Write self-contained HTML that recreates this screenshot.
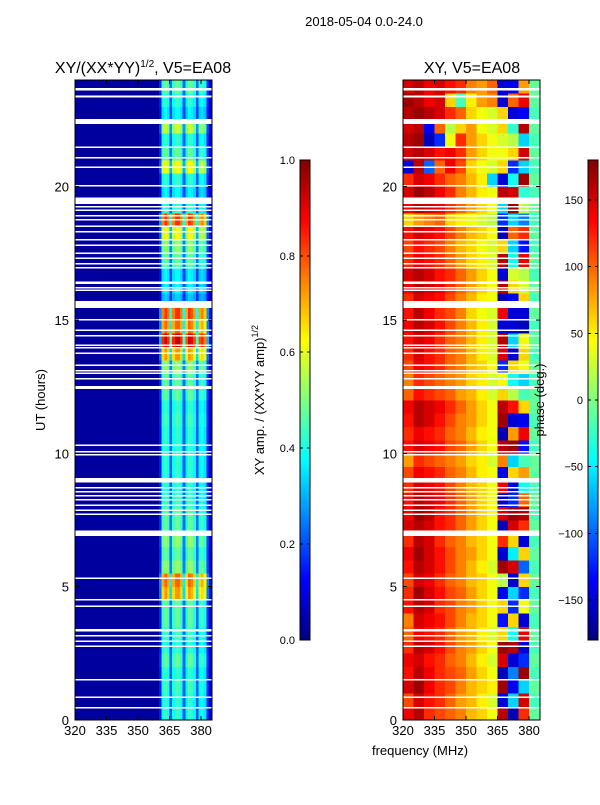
<!DOCTYPE html>
<html><head><meta charset="utf-8"><style>
body{margin:0;background:#fff;font-family:"Liberation Sans",sans-serif}
svg text{font-family:"Liberation Sans","DejaVu Sans",sans-serif;fill:#000}
</style></head><body>
<svg id="fig" width="600" height="800" xmlns="http://www.w3.org/2000/svg" shape-rendering="crispEdges">
<rect width="600" height="800" fill="#fff"/>
<text x="364" y="26" font-size="13" text-anchor="middle">2018-05-04 0.0-24.0</text>
<text x="143" y="73" font-size="16" text-anchor="middle">XY/(XX*YY)<tspan font-size="10" dy="-6">1/2</tspan><tspan dy="6">, V5=EA08</tspan></text>
<text x="472" y="73" font-size="16" text-anchor="middle">XY, V5=EA08</text>
<text transform="translate(45,400) rotate(-90)" font-size="13" text-anchor="middle">UT (hours)</text>
<text x="420" y="755" font-size="13" text-anchor="middle">frequency (MHz)</text>
<text transform="translate(264,400) rotate(-90)" font-size="13" text-anchor="middle">XY amp. / (XX*YY amp)<tspan font-size="9" dy="-6">1/2</tspan></text>
<g id="g-left"></g>
<g id="g-right"></g>
<g id="g-axes"></g>
<text transform="translate(544,400) rotate(-90)" font-size="13" text-anchor="middle">phase (deg.)</text>
</svg>
<script>
// ---- data ----
const hoursRange = [0, 24];
const freqRange = [320, 385.2];
const yTicks = [0, 5, 10, 15, 20];
const xTicks = [320, 335, 350, 365, 380];
const ampTicks = [0.0, 0.2, 0.4, 0.6, 0.8, 1.0];
const phaseTicks = [-150, -100, -50, 0, 50, 100, 150];
// amplitude per half-hour row (0h upward)
const rowAmp = [0.4,0.4,0.42,0.4,0.45,0.4,0.42,0.45,0.45,0.7,0.75,0.5,0.45,0.5,0.45,0.45,0.42,0.4,0.4,0.4,0.4,0.4,0.42,0.4,0.45,0.45,0.5,0.7,0.9,0.75,0.8,0.3,0.35,0.35,0.45,0.5,0.6,0.8,0.4,0.35,0.4,0.6,0.45,0.4,0.55,0.35,0.4,0.45];
// band weights for 360-385 MHz, 1.25 MHz bins
const bandStart = 360, bandBin = 1.25;
const bandWeight = [0.3,0.9,1,0.9,0.45,0.9,1,1,0.9,0.45,0.85,1,0.95,0.85,0.45,0.85,0.9,0.8,0.3,0.1];
const ampBackground = 0.03;
// phase grid: 48 rows (0h upward) x 13 cols (5 MHz from 320)
const phaseFreqStart = 320, phaseFreqBin = 5;
const phase = [
[140,160,120,110,100,90,70,60,40,160,-160,120,-10],
[110,150,130,120,100,80,70,50,30,-150,-60,150,-20],
[150,170,140,120,110,90,70,60,50,170,-140,-60,-10],
[130,160,140,120,110,100,80,60,40,-160,-90,170,-20],
[140,150,130,120,100,90,70,50,30,150,-150,-120,-10],
[120,160,150,130,110,90,80,60,40,170,160,-150,-20],
[100,140,130,120,100,80,70,50,30,60,-40,140,-10],
[90,150,140,130,110,90,70,60,40,-130,60,-150,-20],
[130,160,150,120,110,90,80,60,40,60,-120,40,-10],
[120,170,150,130,110,100,80,60,40,-140,-60,-120,-20],
[110,150,140,120,100,90,70,60,40,20,-150,60,-10],
[130,160,150,130,110,90,70,50,30,170,150,-100,-20],
[140,170,150,130,110,90,80,60,40,-150,-50,60,-10],
[120,160,150,120,100,90,70,60,40,120,60,-150,-20],
[150,160,150,130,120,100,80,60,40,-160,150,120,-10],
[140,170,160,130,120,100,80,60,40,150,170,160,-20],
[130,160,150,140,120,100,80,60,40,-150,-120,100,-10],
[120,150,140,130,110,90,70,60,40,140,-150,-40,-20],
[110,140,130,120,100,90,70,50,40,-140,60,80,-10],
[80,120,110,100,90,80,60,50,30,90,-60,-20,-10],
[130,150,140,130,110,100,80,60,40,160,170,-130,-20],
[120,140,130,120,100,90,70,50,40,-160,80,140,-10],
[130,160,150,130,110,90,80,60,40,170,-150,-140,-20],
[140,160,150,140,120,100,80,60,40,160,130,60,-10],
[100,130,120,110,100,80,70,50,30,60,20,-20,-10],
[90,120,110,100,90,80,60,50,30,40,-40,-60,-20],
[110,140,130,120,100,90,70,60,40,-120,60,40,-10],
[120,150,130,120,100,90,70,50,30,150,-150,60,-20],
[130,150,140,120,100,90,70,50,30,160,-60,40,-10],
[140,160,150,130,110,90,70,50,30,-150,-150,-160,-20],
[130,160,140,120,110,90,60,40,30,140,-150,-150,-10],
[120,150,140,130,110,90,70,50,40,-160,-140,60,-20],
[140,160,150,140,120,100,80,60,40,160,60,30,-10],
[150,160,150,130,120,100,80,60,40,-150,30,20,-20],
[120,140,130,120,100,80,60,50,30,160,-40,140,-10],
[110,130,120,110,90,70,60,40,30,60,-60,-130,-20],
[130,150,140,130,110,90,70,60,40,-160,100,120,-10],
[60,80,90,100,60,50,40,30,20,-120,-60,-90,-20],
[140,160,150,140,120,100,80,60,40,-60,170,20,-10],
[150,170,160,140,120,90,70,50,40,160,150,-30,-20],
[120,150,140,120,100,90,70,50,-60,-150,-40,170,-10],
[-150,160,-100,100,140,110,60,40,30,60,-120,-60,-20],
[150,160,150,130,140,120,80,60,40,40,60,150,-10],
[160,170,-160,-120,40,120,80,60,40,30,20,-60,-20],
[150,160,-140,100,20,60,80,40,30,60,-30,160,-10],
[160,170,160,150,120,100,60,40,30,60,-150,-140,-20],
[170,160,140,150,60,-20,50,80,90,-150,100,140,-10],
[150,160,140,150,130,120,90,80,100,-150,-140,80,-10]];
// flagged (white) time ranges: start hour and duration
const gapStart = [23.6,23.35,22.35,21.45,21.05,20.7,20.0,19.35,19.22,19.08,18.88,18.73,18.48,18.28,17.98,17.78,17.48,17.28,17.08,16.93,16.35,16.18,16.08,15.45,14.98,14.58,14.38,14.03,13.93,13.73,13.28,13.08,12.98,12.78,12.42,10.28,10.03,9.93,8.9,8.68,8.53,8.38,8.23,8.03,7.83,7.68,6.9,5.28,4.48,4.23,3.32,3.13,2.93,2.73,1.48,0.83,0.43];
const gapLen = [0.1,0.07,0.18,0.06,0.06,0.06,0.06,0.25,0.06,0.06,0.06,0.06,0.06,0.06,0.06,0.06,0.06,0.06,0.06,0.06,0.1,0.06,0.06,0.27,0.05,0.06,0.06,0.05,0.05,0.05,0.05,0.05,0.05,0.05,0.1,0.06,0.05,0.05,0.17,0.06,0.06,0.06,0.06,0.06,0.06,0.06,0.2,0.06,0.06,0.06,0.1,0.06,0.06,0.06,0.06,0.06,0.06];

// ---- helpers ----
const NS = "http://www.w3.org/2000/svg";
const panels = [{x0:75,x1:212,g:'g-left'},{x0:403,x1:540,g:'g-right'}];
const Y0 = 720, Y1 = 80;
function yScale(h){return Y0 - (h-hoursRange[0])/(hoursRange[1]-hoursRange[0])*(Y0-Y1);}
function xScale(p,f){return p.x0 + (f-freqRange[0])/(freqRange[1]-freqRange[0])*(p.x1-p.x0);}
function cl(v){return Math.max(0,Math.min(1,v));}
function jet(x){x=cl(x);const r=cl(1.5-Math.abs(4*x-3)),g=cl(1.5-Math.abs(4*x-2)),b=cl(1.5-Math.abs(4*x-1));
 return `rgb(${Math.round(r*255)},${Math.round(g*255)},${Math.round(b*255)})`;}
function mk(tag,attrs,parent){const e=document.createElementNS(NS,tag);for(const k in attrs)e.setAttribute(k,attrs[k]);parent.appendChild(e);return e;}

// ---- left amplitude heatmap ----
(function(){
 const p=panels[0], g=document.getElementById(p.g);
 const bg=mk('rect',{x:p.x0,y:Y1,width:p.x1-p.x0,height:Y0-Y1,fill:jet(ampBackground)},g);
 
 
 for(let r=0;r<rowAmp.length;r++){
  const yt=yScale((r+1)*0.5), yb=yScale(r*0.5);
  for(let c=0;c<bandWeight.length;c++){
   const f0=bandStart+c*bandBin, f1=f0+bandBin;
   const xa=xScale(p,f0), xb=Math.min(p.x1,xScale(p,f1));
   const rc=mk('rect',{x:xa,y:yt,width:xb-xa+0.3,height:yb-yt+0.3,fill:jet(ampBackground+rowAmp[r]*bandWeight[c])},g);
   
   
  }
 }
})();
// ---- right phase heatmap ----
(function(){
 const p=panels[1], g=document.getElementById(p.g);
 for(let r=0;r<phase.length;r++){
  const yt=yScale((r+1)*0.5), yb=yScale(r*0.5);
  for(let c=0;c<phase[r].length;c++){
   const f0=phaseFreqStart+c*phaseFreqBin, f1=Math.min(freqRange[1],f0+phaseFreqBin);
   const xa=xScale(p,f0), xb=xScale(p,f1);
   const rc=mk('rect',{x:xa,y:yt,width:xb-xa+0.3,height:yb-yt+0.3,fill:jet((phase[r][c]+180)/360)},g);
   
   
  }
 }
})();
// ---- gaps, frames, ticks ----
(function(){
 const ax=document.getElementById('g-axes');
 panels.forEach((p,pi)=>{
  for(let i=0;i<gapStart.length;i++){
   const yt=yScale(gapStart[i]+gapLen[i]), yb=yScale(gapStart[i]);
   const gr=mk('rect',{x:p.x0,y:yt,width:p.x1-p.x0,height:Math.max(1.5,yb-yt),fill:'#fff'},ax);
   
   
  }
  const fr=mk('rect',{x:p.x0,y:Y1,width:p.x1-p.x0,height:Y0-Y1,fill:'none',stroke:'#000','stroke-width':1},ax);
  
  
  yTicks.forEach(t=>{const y=yScale(t);
   mk('line',{x1:p.x0,x2:p.x0+4,y1:y,y2:y,stroke:'#000'},ax);
   mk('line',{x1:p.x1,x2:p.x1-4,y1:y,y2:y,stroke:'#000'},ax);
   const tx=mk('text',{x:p.x0-6,y:y+5,'font-size':13,'text-anchor':'end'},ax);tx.textContent=t;
   
   
  });
  xTicks.forEach(t=>{const x=xScale(p,t);
   mk('line',{x1:x,x2:x,y1:Y0,y2:Y0-4,stroke:'#000'},ax);
   mk('line',{x1:x,x2:x,y1:Y1,y2:Y1+4,stroke:'#000'},ax);
   const tx=mk('text',{x:x,y:Y0+15,'font-size':13,'text-anchor':'middle'},ax);tx.textContent=t;
   
   
  });
 });
 // colorbars
 const defs=mk('defs',{},ax);
 const lg=mk('linearGradient',{id:'jetg',x1:0,y1:1,x2:0,y2:0},defs);
 for(let i=0;i<=32;i++)mk('stop',{offset:i/32,'stop-color':jet(i/32)},lg);
 const bars=[{x:300,ticks:ampTicks,lo:0,hi:1,fmt:v=>v.toFixed(1),name:'amp-colorbar'},
             {x:588,ticks:phaseTicks,lo:-180,hi:180,fmt:v=>v<0?'\u2212'+(-v):''+v,name:'phase-colorbar'}];
 bars.forEach(b=>{
  const cb=mk('rect',{x:b.x,y:160,width:10,height:480,fill:'url(#jetg)',stroke:'#000'},ax);
  
  
  b.ticks.forEach(t=>{const y=640-(t-b.lo)/(b.hi-b.lo)*480;
   mk('line',{x1:b.x,x2:b.x+3,y1:y,y2:y,stroke:'#000'},ax);
   mk('line',{x1:b.x+10,x2:b.x+7,y1:y,y2:y,stroke:'#000'},ax);
   const tx=mk('text',{x:b.x-5,y:y+4,'font-size':11,'text-anchor':'end'},ax);tx.textContent=b.fmt(t);
   
   
  });
 });
})();
</script>
</body></html>
